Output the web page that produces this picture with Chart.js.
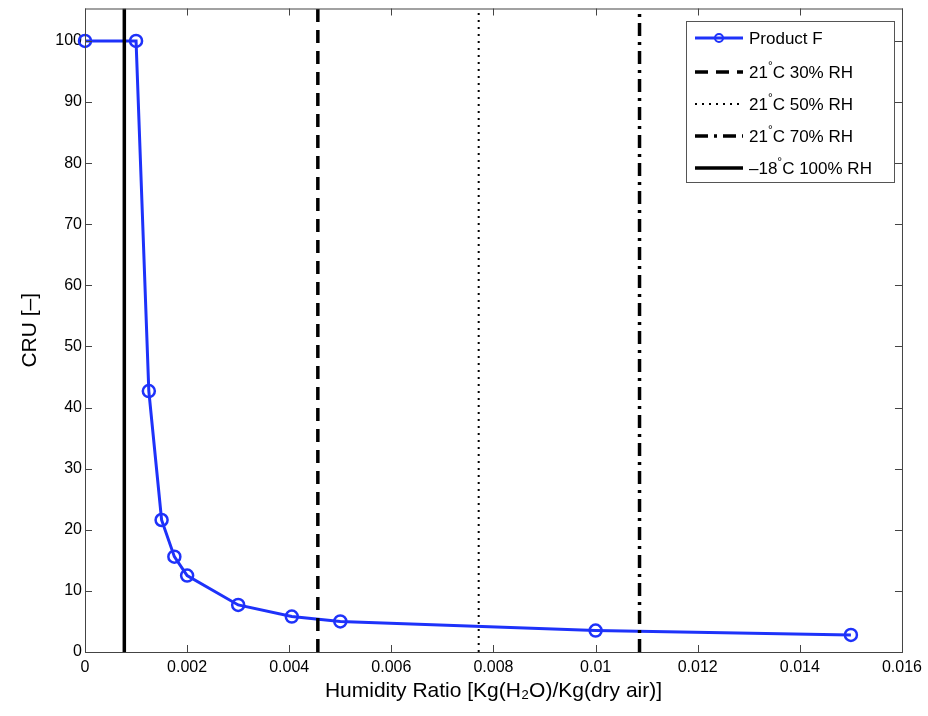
<!DOCTYPE html>
<html>
<head>
<meta charset="utf-8">
<script src="https://cdn.jsdelivr.net/npm/chart.js@4.4.1/dist/chart.umd.min.js"></script>
<style>
  body { margin: 0; background: #fff; }
  #wrap { width: 928px; height: 716px; }
</style>
</head>
<body>
<div id="wrap"><canvas id="cruChart"></canvas></div>
<script>
// measured points, Product F
const humidityRatio = [0, 0.001, 0.00125, 0.0015, 0.00175, 0.002, 0.003, 0.00405, 0.005, 0.01, 0.015];
const cruValues = [100, 100, 42.7, 21.6, 15.6, 12.5, 7.7, 5.8, 5.0, 3.5, 2.8];

// reference conditions (vertical lines)
const refLabels = ['21°C 30% RH', '21°C 50% RH', '21°C 70% RH', '–18°C 100% RH'];
const refRatios = [0.00456, 0.00771, 0.01086, 0.00077];
const refDashes = [[13, 8], [2, 5], [13, 6, 3, 6], []];
const refWidths = [3.5, 2, 3.5, 3.5];

const xTicks = [0, 0.002, 0.004, 0.006, 0.008, 0.01, 0.012, 0.014, 0.016];
const yTicks = [0, 10, 20, 30, 40, 50, 60, 70, 80, 90, 100];

const blue = 'rgb(30,50,250)';
const FONT = '"Liberation Sans", Arial, sans-serif';

const datasets = [{
    label: 'Product F',
    data: humidityRatio.map((x, i) => ({ x: x, y: cruValues[i] })),
    borderColor: blue,
    borderWidth: 3,
    pointRadius: 6,
    pointBorderWidth: 2.5,
    pointBackgroundColor: 'rgba(0,0,0,0)',
    pointBorderColor: blue,
    pointStyle: 'circle',
    clip: false,
    order: 1
}];

refLabels.forEach((label, i) => {
    datasets.push({
        label: label,
        data: [{ x: refRatios[i], y: 0 }, { x: refRatios[i], y: 105.3 }],
        borderColor: '#000',
        borderWidth: refWidths[i],
        borderDash: refDashes[i],
        pointRadius: 0,
        order: 0
    });
});

// matlab style box, inward ticks and legend
const framePlugin = {
    id: 'frame',
    afterDatasetsDraw(chart) {
        const ctx = chart.ctx;
        const a = chart.chartArea;
        const xs = chart.scales.x, ys = chart.scales.y;
        ctx.save();
        ctx.strokeStyle = '#444';
        ctx.lineWidth = 1;
        ctx.setLineDash([]);
        ctx.strokeRect(a.left + 0.5, a.top + 0.5, a.right - a.left, a.bottom - a.top);
        const tl = 7;
        ctx.beginPath();
        xTicks.forEach(v => {
            const px = Math.round(xs.getPixelForValue(v)) + 0.5;
            ctx.moveTo(px, a.bottom); ctx.lineTo(px, a.bottom - tl);
            ctx.moveTo(px, a.top); ctx.lineTo(px, a.top + tl);
        });
        yTicks.forEach(v => {
            const py = Math.round(ys.getPixelForValue(v)) + 0.5;
            ctx.moveTo(a.left, py); ctx.lineTo(a.left + tl, py);
            ctx.moveTo(a.right, py); ctx.lineTo(a.right - tl, py);
        });
        ctx.stroke();

        // legend box
        const bx = 686, by = 21, bw = 208, bh = 161;
        ctx.fillStyle = '#fff';
        ctx.fillRect(bx, by, bw, bh);
        ctx.strokeStyle = '#555';
        ctx.strokeRect(bx + 0.5, by + 0.5, bw, bh);
        const rows = [38, 72, 104, 136, 168];
        chart.data.datasets.forEach((ds, i) => {
            const y = rows[i];
            ctx.strokeStyle = ds.borderColor;
            ctx.lineWidth = ds.borderWidth;
            ctx.setLineDash(ds.borderDash || []);
            ctx.beginPath();
            ctx.moveTo(695, y); ctx.lineTo(743, y);
            ctx.stroke();
            ctx.setLineDash([]);
            if (i === 0) {
                ctx.lineWidth = 2;
                ctx.beginPath();
                ctx.arc(719, y, 4, 0, Math.PI * 2);
                ctx.stroke();
            }
            // label, degree sign raised
            ctx.fillStyle = '#000';
            ctx.textBaseline = 'middle';
            const parts = ds.label.split('°');
            let tx = 749;
            ctx.font = '17px ' + FONT;
            ctx.fillText(parts[0], tx, y + 1);
            tx += ctx.measureText(parts[0]).width;
            if (parts.length > 1) {
                ctx.font = '12px ' + FONT;
                ctx.fillText('°', tx, y - 5);
                tx += ctx.measureText('°').width;
                ctx.font = '17px ' + FONT;
                ctx.fillText(parts[1], tx, y + 1);
            }
        });
        ctx.restore();
    }
};

const ctx = document.getElementById('cruChart').getContext('2d');
const cruChart = new Chart(ctx, {
    type: 'line',
    data: { datasets: datasets },
    options: {
        responsive: true,
        maintainAspectRatio: false,
        animation: false,
        layout: { padding: { left: 0, right: 26, top: 7, bottom: 0 } },
        plugins: { legend: { display: false }, tooltip: { enabled: false } },
        scales: {
            x: {
                type: 'linear',
                min: 0,
                max: 0.016,
                afterBuildTicks: s => { s.ticks = xTicks.map(v => ({ value: v })); },
                afterFit: s => { s.height = 64; },
                grid: { display: false, drawTicks: false },
                border: { display: false },
                ticks: {
                    color: '#000',
                    padding: 6,
                    maxRotation: 0,
                    font: { family: FONT, size: 16 },
                    callback: v => String(Number(v.toFixed(3)))
                },
                title: {
                    display: true,
                    text: 'Humidity Ratio [Kg(H₂O)/Kg(dry air)]',
                    color: '#000',
                    font: { family: FONT, size: 21 },
                    padding: { top: 0, bottom: 12 }
                }
            },
            y: {
                type: 'linear',
                min: 0,
                max: 105.3,
                afterBuildTicks: s => { s.ticks = yTicks.map(v => ({ value: v })); },
                afterFit: s => { s.width = 85; s.paddingTop = 0; s.paddingBottom = 0; },
                grid: { display: false, drawTicks: false },
                border: { display: false },
                ticks: {
                    color: '#000',
                    padding: 3,
                    font: { family: FONT, size: 16 }
                },
                title: {
                    display: true,
                    text: 'CRU [–]',
                    color: '#000',
                    font: { family: FONT, size: 21 },
                    padding: { top: 18, bottom: 0 }
                }
            }
        }
    },
    plugins: [framePlugin]
});
</script>
</body>
</html>
